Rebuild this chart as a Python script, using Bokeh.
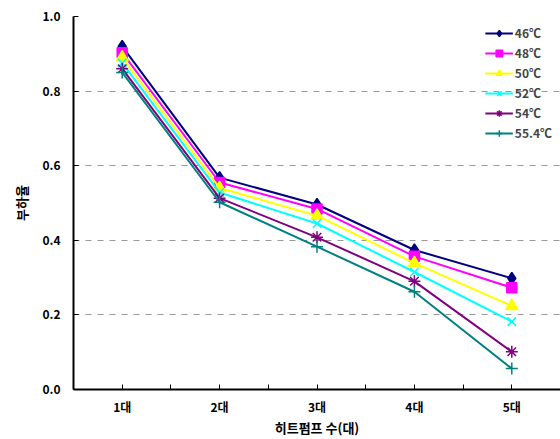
from bokeh.plotting import figure
from bokeh.models import Range1d, FixedTicker, Legend, LegendItem
from bokeh.embed import file_html
from bokeh.resources import INLINE

categories = ["1대", "2대", "3대", "4대", "5대"]
series_names = ["46℃", "48℃", "50℃", "52℃", "54℃", "55.4℃"]
s46 = [0.92, 0.568, 0.496, 0.374, 0.298]
s48 = [0.903, 0.555, 0.484, 0.357, 0.273]
s50 = [0.89, 0.54, 0.466, 0.339, 0.224]
s52 = [0.875, 0.528, 0.445, 0.315, 0.182]
s54 = [0.86, 0.513, 0.408, 0.29, 0.101]
s554 = [0.85, 0.502, 0.383, 0.262, 0.056]
y_ticks = [0.0, 0.2, 0.4, 0.6, 0.8, 1.0]

series = [s46, s48, s50, s52, s54, s554]
colors = ["#000080", "#FF00FF", "#FFFF00", "#00FFFF", "#800080", "#008080"]
markers = ["diamond", "square", "triangle", "x", "asterisk", "cross"]
sizes = [12, 10, 12, 12, 12, 12]

FONT = "Noto Sans CJK KR"
xs = list(range(1, len(categories) + 1))

p = figure(width=560, height=439, output_backend="svg", toolbar_location=None,
           x_range=Range1d(0.5, 5.5), y_range=Range1d(0, 1.0),
           min_border_left=73, min_border_top=16, min_border_right=0, min_border_bottom=40)
p.outline_line_color = None
p.background_fill_color = "white"
p.border_fill_color = "white"

p.xaxis.ticker = FixedTicker(ticks=xs, minor_ticks=[0.5 + i for i in range(6)])
p.xaxis.major_label_overrides = {x: c for x, c in zip(xs, categories)}
p.yaxis.ticker = FixedTicker(ticks=y_ticks)
p.yaxis.major_label_overrides = {v: f"{v:.1f}" for v in y_ticks}

for ax in (p.xaxis[0], p.yaxis[0]):
    ax.axis_line_color = "black"
    ax.axis_line_width = 2
    ax.major_tick_in = 5
    ax.major_tick_out = 0
    ax.minor_tick_in = 5
    ax.minor_tick_out = 0
    ax.major_tick_line_color = "black"
    ax.minor_tick_line_color = "black"
    ax.major_label_text_font = FONT
    ax.major_label_text_font_style = "bold"
    ax.major_label_text_font_size = "12px"
    ax.major_label_text_color = "black"
    ax.axis_label_text_font = FONT
    ax.axis_label_text_font_style = "bold"
    ax.axis_label_text_font_size = "13px"
    ax.axis_label_text_color = "black"
p.yaxis.minor_tick_line_color = None
p.xaxis.major_label_standoff = 8
p.yaxis.major_label_standoff = 13
p.xaxis.axis_label = "히트펌프 수(대)"
p.yaxis.axis_label = "부하율"
p.xaxis.axis_label_standoff = 0
p.yaxis.axis_label_standoff = 8

p.xgrid.grid_line_color = None
p.ygrid.grid_line_color = "#999999"
p.ygrid.grid_line_dash = "6 6"
p.ygrid.grid_line_width = 1

items = []
for name, ys, c, m, s in zip(series_names, series, colors, markers, sizes):
    r1 = p.line(xs, ys, line_color=c, line_width=2)
    r2 = p.scatter(xs, ys, marker=m, size=s, fill_color=c, line_color=c, line_width=1.5)
    items.append(LegendItem(label=name, renderers=[r1, r2]))

legend = Legend(items=items, location="top_right")
legend.border_line_color = None
legend.background_fill_alpha = 0
legend.label_text_font = FONT
legend.label_text_font_style = "bold"
legend.label_text_font_size = "12px"
legend.glyph_width = 28
legend.glyph_height = 16
legend.spacing = 3
legend.padding = 2
legend.margin = 8
legend.label_standoff = 2
legend.label_height = 16
p.add_layout(legend)

open("out.html", "w").write(file_html(p, INLINE))
